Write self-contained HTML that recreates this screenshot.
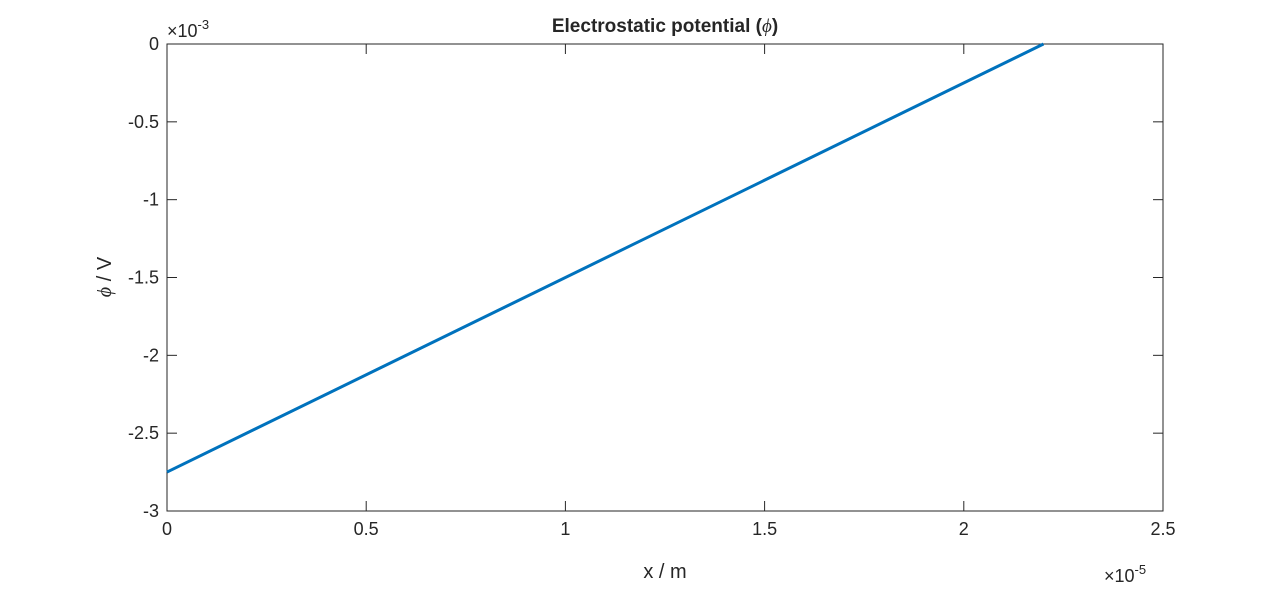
<!DOCTYPE html>
<html><head><meta charset="utf-8"><style>
body{margin:0;background:#fff;}
svg text{font-family:"Liberation Sans","DejaVu Sans",sans-serif;fill:#262626;}
</style></head><body>
<svg id="chart" width="1285" height="589" xmlns="http://www.w3.org/2000/svg">
<rect width="1285" height="589" fill="#fff"/>
<g id="axes"></g>
</svg>
<script>
const xTicks=[0,0.5,1,1.5,2,2.5];
const yTicks=[0,-0.5,-1,-1.5,-2,-2.5,-3];
const xTickLabels=["0","0.5","1","1.5","2","2.5"];
const yTickLabels=["0","-0.5","-1","-1.5","-2","-2.5","-3"];
const seriesX=[0,2.2];
const seriesY=[-2.75,0];
const L=167,R=1163,T=44,B=511;
const sx=v=>L+(v-0)/(2.5-0)*(R-L);
const sy=v=>T+(0-v)/(0+3)*(B-T);
const g=document.getElementById('axes');
const NS='http://www.w3.org/2000/svg';
function mk(tag,attrs,txt){const e=document.createElementNS(NS,tag);for(const k in attrs)e.setAttribute(k,attrs[k]);if(txt!==undefined)e.textContent=txt;g.appendChild(e);return e;}
const box=mk('rect',{x:L,y:T,width:R-L,height:B-T,fill:'#fff',stroke:'#262626','stroke-width':1});


xTicks.forEach((v,i)=>{
  const x=sx(v);
  const t1=mk('line',{x1:x,x2:x,y1:B,y2:B-10,stroke:'#262626'});
  
  
  mk('line',{x1:x,x2:x,y1:T,y2:T+10,stroke:'#262626'});
  const lb=mk('text',{x:x,y:B+24,'font-size':18,'text-anchor':'middle'},xTickLabels[i]);
  
  
});
yTicks.forEach((v,i)=>{
  const y=sy(v);
  const t1=mk('line',{x1:L,x2:L+10,y1:y,y2:y,stroke:'#262626'});
  
  
  mk('line',{x1:R,x2:R-10,y1:y,y2:y,stroke:'#262626'});
  const lb=mk('text',{x:L-8,y:y+6,'font-size':18,'text-anchor':'end'},yTickLabels[i]);
  
  
});
const pts=seriesX.map((v,i)=>sx(v)+','+sy(seriesY[i])).join(' ');
const line=mk('polyline',{points:pts,fill:'none',stroke:'#0072BD','stroke-width':3});


const title=mk('text',{x:665,y:32,'font-size':19,'font-weight':'bold','text-anchor':'middle'},'Electrostatic potential (');


const ph=document.createElementNS(NS,'tspan');ph.setAttribute('font-style','italic');ph.setAttribute('font-weight','normal');ph.setAttribute('font-family','Liberation Serif, serif');ph.textContent='ϕ';title.appendChild(ph);
const cl=document.createElementNS(NS,'tspan');cl.textContent=')';title.appendChild(cl);
const xl=mk('text',{x:665,y:578,'font-size':20,'text-anchor':'middle'},'x / m');


const yl=mk('text',{x:0,y:0,'font-size':20,'text-anchor':'middle',transform:'translate(111,277) rotate(-90)'},'');


const yp=document.createElementNS(NS,'tspan');yp.setAttribute('font-style','italic');yp.setAttribute('font-family','Liberation Serif, serif');yp.textContent='ϕ';yl.appendChild(yp);
const yr=document.createElementNS(NS,'tspan');yr.textContent=' / V';yl.appendChild(yr);
const ye=mk('text',{x:167,y:37,'font-size':18},'×10');


const ys=document.createElementNS(NS,'tspan');ys.setAttribute('dy','-8');ys.setAttribute('font-size','13');ys.textContent='-3';ye.appendChild(ys);
const xe=mk('text',{x:1104,y:582,'font-size':18},'×10');


const xs=document.createElementNS(NS,'tspan');xs.setAttribute('dy','-8');xs.setAttribute('font-size','13');xs.textContent='-5';xe.appendChild(xs);
</script>
</body></html>
